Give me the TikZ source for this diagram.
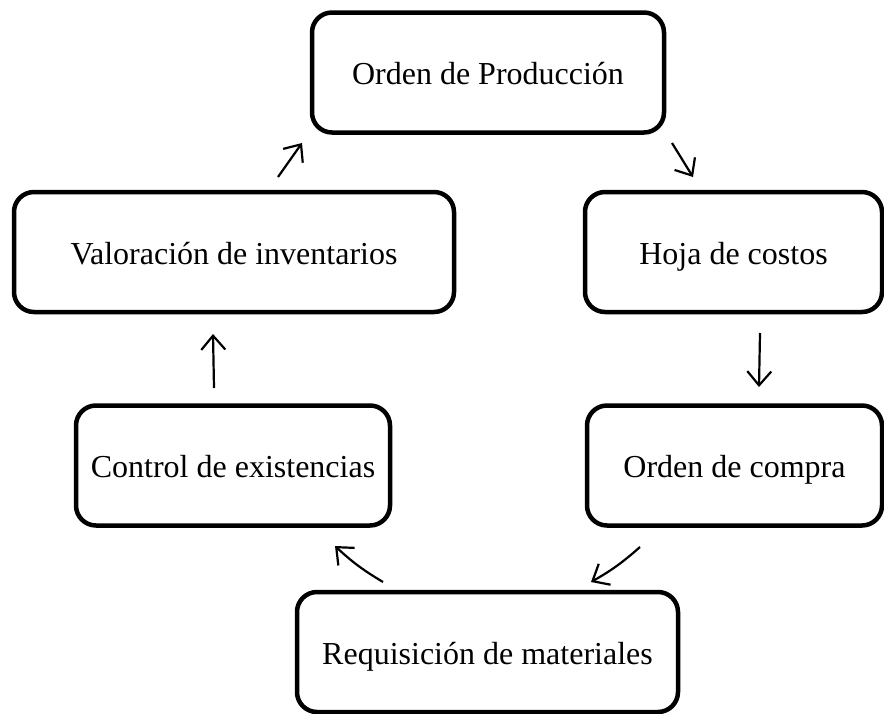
\documentclass[tikz,border=0pt]{standalone}
\usepackage{fontspec}
\setmainfont{Liberation Serif}
\usetikzlibrary{arrows.meta}

\begin{document}
\begin{tikzpicture}[x=1pt, y=-1pt, caja/.style = {draw, line width=4.5pt, rounded corners=20pt, minimum height=120pt, text height=29pt, text depth=5pt, font=\fontsize{32}{38}\selectfont}, flecha/.style = {line width=2.2pt, -{Straight Barb[length=14pt, width=24pt, line width=2.2pt]}}]
	\useasboundingbox (0,0) rectangle (884,713);
	\node[caja, minimum width=352pt] (1) at (488,72.5) {Orden de Producción};
	\node[caja, minimum width=297pt] (2) at (733.5,252) {Hoja de costos};
	\node[caja, minimum width=295pt] (3) at (734.5,465.5) {Orden de compra};
	\node[caja, minimum width=381pt] (4) at (487.5,652) {Requisición de materiales};
	\node[caja, minimum width=314pt] (5) at (233,465.5) {Control de existencias};
	\node[caja, minimum width=440pt] (6) at (234,252) {Valoración de inventarios};
	% puntas sueltas de las flechas
	\coordinate (1a) at (672,143); \coordinate (1b) at (693,177);
	\coordinate (2a) at (760,333); \coordinate (2b) at (759,387);
	\coordinate (3a) at (640,547); \coordinate (3b) at (591,582);
	\coordinate (4a) at (383,582); \coordinate (4b) at (335,546);
	\coordinate (5a) at (214,388); \coordinate (5b) at (213,334);
	\coordinate (6a) at (278,177); \coordinate (6b) at (302,143);
	\draw[flecha] (1a) -- (1b);
	\draw[flecha] (2a) -- (2b);
	\draw[flecha] (3a) to[bend left=6] (3b);
	\draw[flecha] (4a) to[bend left=6] (4b);
	\draw[flecha] (5a) -- (5b);
	\draw[flecha] (6a) -- (6b);
\end{tikzpicture}
\end{document}
